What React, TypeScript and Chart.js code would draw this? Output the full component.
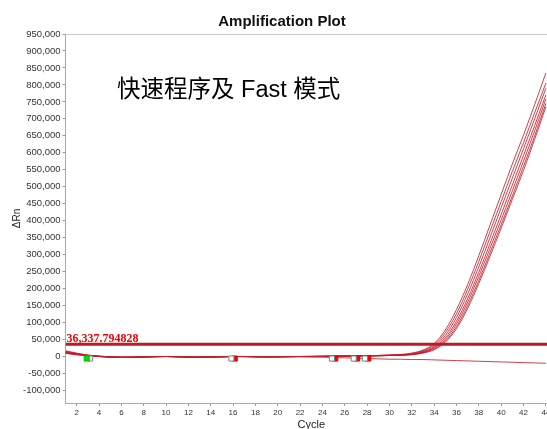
import React, { useEffect, useRef } from "react";
import { Chart, registerables } from "chart.js";

Chart.register(...registerables);

const CYCLES = [1, 2, 3, 4, 5, 6, 7, 8, 9, 10, 11, 12, 13, 14, 15, 16, 17, 18, 19, 20, 21, 22, 23, 24, 25, 26, 27, 28, 29, 30, 31, 32, 33, 34, 35, 36, 37, 38, 39, 40, 41, 42, 43, 44];
const X_TICKS = [2, 4, 6, 8, 10, 12, 14, 16, 18, 20, 22, 24, 26, 28, 30, 32, 34, 36, 38, 40, 42, 44];
const Y_TICKS = [-100000, -50000, 0, 50000, 100000, 150000, 200000, 250000, 300000, 350000, 400000, 450000, 500000, 550000, 600000, 650000, 700000, 750000, 800000, 850000, 900000, 950000];
const THRESHOLD = 36337.794828;

const CURVE_A = [14000, 8000, 3000, 0, -2000, -3000, -2000, -1000, 0, 0, -1000, -2000, -2000, -1000, 0, 0, 0, -1000, -1000, 0, 0, 0, 0, 1000, 1000, 1000, 2000, 2000, 3000, 4000, 6000, 10000, 19000, 38000, 78000, 138000, 212000, 297000, 387000, 477000, 567000, 652000, 742000, 835000];
const CURVE_B = [10000, 6000, 2000, 0, -2000, -3000, -2000, -1000, 0, 0, -1000, -2000, -2000, -1000, 0, 0, -1000, -1000, -1000, 0, 0, 0, 1000, 1000, 1000, 2000, 2000, 2000, 3000, 4000, 5000, 9000, 17000, 34000, 70000, 126000, 198000, 280000, 368000, 456000, 545000, 630000, 718000, 805000];
const CURVE_C = [17000, 10000, 4000, 1000, -1000, -2000, -2000, -1000, 0, 0, -1000, -1000, -2000, -1000, -1000, 0, 0, -1000, -1000, -1000, 0, 0, 0, 1000, 1000, 1000, 1000, 2000, 3000, 4000, 5000, 8000, 15000, 30000, 62000, 115000, 184000, 264000, 350000, 438000, 525000, 612000, 700000, 790000];
const CURVE_D = [12000, 7000, 3000, 0, -2000, -2000, -2000, -1000, 0, 0, 0, -1000, -2000, -2000, -1000, 0, 0, 0, -1000, -1000, 0, 0, 0, 0, 1000, 1000, 2000, 2000, 3000, 3000, 4000, 7000, 13000, 27000, 55000, 104000, 170000, 248000, 332000, 418000, 505000, 592000, 680000, 770000];
const CURVE_E = [9000, 5000, 2000, 0, -1000, -2000, -2000, -1000, -1000, 0, 0, -1000, -2000, -1000, -1000, 0, 0, 0, -1000, -1000, -1000, 0, 0, 0, 1000, 1000, 1000, 2000, 2000, 3000, 4000, 7000, 12000, 25000, 50000, 96000, 160000, 236000, 318000, 402000, 488000, 575000, 665000, 758000];
const CURVE_F = [15000, 9000, 4000, 1000, -1000, -3000, -3000, -2000, -1000, 0, 0, -1000, -2000, -2000, -1000, 0, 0, 0, 0, -1000, -1000, 0, 0, 0, 0, 1000, 1000, 2000, 2000, 3000, 4000, 6000, 11000, 22000, 45000, 88000, 150000, 224000, 305000, 388000, 473000, 560000, 650000, 745000];
const CURVE_G = [11000, 6000, 2000, 0, -1000, -2000, -2000, -1000, 0, 0, -1000, -1000, -2000, -1000, 0, 0, 0, -1000, -1000, -1000, 0, 0, 0, 0, 1000, 1000, 1000, 2000, 2000, 3000, 3000, 5000, 10000, 20000, 42000, 82000, 142000, 215000, 295000, 378000, 463000, 548000, 640000, 735000];
const CURVE_NEG = [12000, 7000, 3000, 1000, -1000, -2000, -2000, -1000, -1000, 0, -1000, -2000, -2000, -1000, -1000, 0, 0, -1000, -1000, -1000, -1000, -1000, -2000, -2000, -3000, -4000, -5000, -6000, -7000, -8000, -8000, -9000, -9000, -10000, -11000, -12000, -13000, -14000, -15000, -16000, -17000, -18000, -19000, -20000];

const CURVES = [CURVE_A, CURVE_B, CURVE_C, CURVE_D, CURVE_E, CURVE_F, CURVE_G, CURVE_NEG];

const GREEN_MARK_X = [2.9];
const GRAY_MARK_X = [3.2, 15.85, 24.85, 26.8, 27.8];
const RED_MARK_X = [16.15, 25.15, 27.1, 28.1];
const MARK_Y = -6000;

const TITLE = "Amplification Plot";
const NOTE = "快速程序及 Fast 模式";
const X_TITLE = "Cycle";
const Y_TITLE = "ΔRn";

const SANS = "'Liberation Sans', Arial, sans-serif";

const overlayPlugin = {
  id: "overlayText",
  beforeDatasetsDraw(chart: any) {
    const { ctx, chartArea } = chart;
    ctx.save();
    ctx.strokeStyle = "#c8c8c8";
    ctx.lineWidth = 1;
    ctx.beginPath();
    ctx.moveTo(chartArea.left, Math.round(chartArea.top) + 0.5);
    ctx.lineTo(Math.round(chartArea.right) + 0.5, Math.round(chartArea.top) + 0.5);
    ctx.lineTo(Math.round(chartArea.right) + 0.5, chartArea.bottom);
    ctx.stroke();
    ctx.restore();
  },
  afterDraw(chart: any) {
    const { ctx, chartArea, scales } = chart;
    ctx.save();
    ctx.fillStyle = "#111";
    ctx.font = `bold 15px ${SANS}`;
    ctx.textAlign = "center";
    ctx.textBaseline = "alphabetic";
    ctx.fillText(TITLE, 282, 26);

    ctx.font = "23.5px 'Liberation Sans', 'Noto Sans CJK SC', sans-serif";
    ctx.textAlign = "left";
    ctx.textBaseline = "middle";
    ctx.fillStyle = "#000";
    ctx.fillText(NOTE, 117, 91);

    const ty = scales.y.getPixelForValue(THRESHOLD);
    ctx.font = "bold 12px 'Liberation Serif', 'Times New Roman', serif";
    ctx.fillStyle = "#f00000";
    ctx.textBaseline = "alphabetic";
    ctx.fillText(THRESHOLD.toLocaleString("en-US", { minimumFractionDigits: 6, maximumFractionDigits: 6 }), chartArea.left + 1, ty - 2.5);
    ctx.restore();
  },
};

export default function App() {
  const ref = useRef<HTMLCanvasElement>(null);

  useEffect(() => {
    if (!ref.current) return;
    const toPts = (arr: number[]) => CYCLES.map((c, i) => ({ x: c, y: arr[i] }));

    const markerSets = [
      {
        data: GREEN_MARK_X.map((x) => ({ x, y: MARK_Y })),
        showLine: false,
        pointStyle: "rect",
        pointRadius: 3.6,
        pointBackgroundColor: "#00e000",
        pointBorderColor: "#00c000",
        pointBorderWidth: 1,
      },
      {
        data: GRAY_MARK_X.map((x) => ({ x, y: MARK_Y })),
        showLine: false,
        pointStyle: "rect",
        pointRadius: 3.6,
        pointBackgroundColor: "#ffffff",
        pointBorderColor: "#808080",
        pointBorderWidth: 1,
      },
      {
        data: RED_MARK_X.map((x) => ({ x, y: MARK_Y })),
        showLine: false,
        pointStyle: "rect",
        pointRadius: 3.6,
        pointBackgroundColor: "#ff0000",
        pointBorderColor: "#e00000",
        pointBorderWidth: 1,
      },
    ];

    const thresholdSet = {
      data: [
        { x: 1, y: THRESHOLD },
        { x: 45, y: THRESHOLD },
      ],
      borderColor: "#b81c26",
      borderWidth: 3,
      pointRadius: 0,
      tension: 0,
    };

    const curveSets = CURVES.map((arr) => ({
      data: toPts(arr),
      borderColor: "rgba(196, 30, 44, 0.85)",
      borderWidth: 1,
      pointRadius: 0,
      tension: 0.35,
      cubicInterpolationMode: "monotone",
    }));

    const chart = new Chart(ref.current, {
      type: "line",
      data: { datasets: [...markerSets, thresholdSet, ...curveSets] as any },
      options: {
        responsive: false,
        animation: false,
        devicePixelRatio: 1,
        layout: { padding: { left: 0, top: 34, right: 13, bottom: 0 } },
        plugins: { legend: { display: false }, tooltip: { enabled: false }, title: { display: false } },
        scales: {
          x: {
            type: "linear",
            min: 1,
            max: 45,
            afterBuildTicks: (s: any) => {
              s.ticks = X_TICKS.map((v) => ({ value: v }));
            },
            afterFit: (s: any) => {
              s.height = 37;
            },
            grid: { drawOnChartArea: false, drawTicks: true, tickLength: 3, color: "#999" },
            border: { display: true, color: "#a8a8a8", width: 1 },
            ticks: { autoSkip: false, maxRotation: 0, padding: 2, color: "#333", font: { family: SANS, size: 8 } },
            title: { display: true, text: X_TITLE, color: "#222", font: { family: SANS, size: 11 }, padding: { top: 0, bottom: 8.4 } },
          },
          y: {
            type: "linear",
            min: -137000,
            max: 950000,
            afterBuildTicks: (s: any) => {
              s.ticks = Y_TICKS.map((v) => ({ value: v }));
            },
            afterFit: (s: any) => {
              s.width = 65.5;
            },
            grid: { drawOnChartArea: false, drawTicks: true, tickLength: 3, color: "#999" },
            border: { display: true, color: "#a8a8a8", width: 1 },
            ticks: {
              autoSkip: false,
              padding: 2,
              color: "#333",
              font: { family: SANS, size: 9.5 },
              callback: (v: any) => Number(v).toLocaleString("en-US"),
            },
            title: { display: true, text: Y_TITLE, color: "#222", font: { family: SANS, size: 10 }, padding: { top: 11, bottom: 0 } },
          },
        },
      } as any,
      plugins: [overlayPlugin],
    });
    return () => chart.destroy();
  }, []);

  return (
    <div style={{ position: "fixed", left: 0, top: 0, width: 547, height: 429, overflow: "hidden", background: "#fff" }}>
      <canvas ref={ref} width={570} height={440} style={{ display: "block" }} />
    </div>
  );
}
